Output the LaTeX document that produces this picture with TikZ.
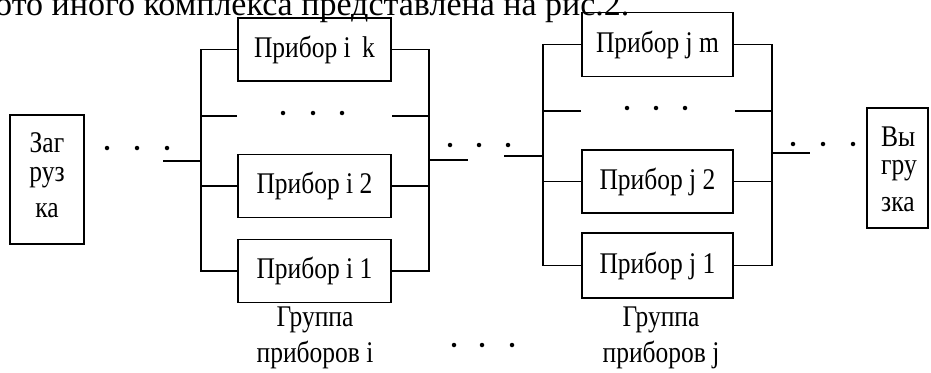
\documentclass[tikz,border=0pt]{standalone}
\usepackage{fontspec}
\setmainfont{Liberation Serif}
\newfontfamily\labfont[FakeStretch=0.85]{Liberation Serif}
\begin{document}
\begin{tikzpicture}[x=1pt,y=-1pt,
  wire/.style={line width=1.6pt},
  dev/.style={draw,line width=1.6pt,inner sep=0pt,minimum width=153pt,minimum height=63pt,font=\labfont\fontsize{30}{33}\selectfont},
  endbox/.style={draw,line width=1.6pt,inner sep=0pt,minimum width=74pt,minimum height=129pt},
  lab/.style={font=\labfont\fontsize{30}{33}\selectfont,inner sep=0pt},
  dot/.style={circle,fill=black,inner sep=0pt,minimum size=4.5pt}]
\useasboundingbox (0,0) rectangle (931,372);
\clip (0,0) rectangle (931,372);
\node[anchor=base west,inner sep=0pt,font=\fontsize{34}{38}\selectfont] (hdr) at (-5,15) {ото иного комплекса представлена на рис.2.};
% input box
\node[endbox] (in) at (47,179.5) {};
\node[lab] (in1) at (47,143) {Заг};
\node[lab] (in2) at (47,178) {руз};
\node[lab] (in3) at (47,211) {ка};
% output box
\node[endbox,minimum width=61pt,minimum height=120pt] (out) at (897.5,168) {};
\node[lab,anchor=west] (out1) at (881,137) {Вы};
\node[lab,anchor=west] (out2) at (881,171) {гру};
\node[lab,anchor=west] (out3) at (881,205) {зка};
% input dots
\node[dot] (d1) at (107,148) {};
\node[dot] (d2) at (137,148) {};
\node[dot] (d3) at (167,148) {};
% group i
\node[dev] (ik) at (314.5,49.5) {Прибор i\, k};
\node[dev] (i2) at (314.5,186) {Прибор i 2};
\node[dev] (i1) at (314.5,271) {Прибор i 1};
\coordinate (iLx) at (201,0);
\coordinate (iRx) at (429,0);
\draw[wire] (ik.west) -- (ik.west -| iLx) -- (i1.west -| iLx) -- (i1.west);
\draw[wire] (i2.west) -- (i2.west -| iLx);
\draw[wire] (ik.east) -- (ik.east -| iRx) -- (i1.east -| iRx) -- (i1.east);
\draw[wire] (i2.east) -- (i2.east -| iRx);
\coordinate (iLs) at (237,116);
\coordinate (iRs) at (392,116);
\draw[wire] (iLs) -- (iLs -| iLx);
\draw[wire] (iRs) -- (iRs -| iRx);
\node[dot] (id1) at (283,113) {};
\node[dot] (id2) at (313,113) {};
\node[dot] (id3) at (342,113) {};
\coordinate (inS) at (163,161);
\draw[wire] (inS) -- (inS -| iLx);
\coordinate (iO) at (468,160);
\draw[wire] (iO -| iRx) -- (iO);
% middle dots
\node[dot] (m1) at (450,145) {};
\node[dot] (m2) at (479,145) {};
\node[dot] (m3) at (508,145) {};
% group j
\node[dev,minimum width=151pt,minimum height=64pt] (jm) at (657.5,44.5) {Прибор j m};
\node[dev,minimum width=151pt,minimum height=63pt] (j2) at (657.5,181.5) {Прибор j 2};
\node[dev,minimum width=151pt,minimum height=65pt] (j1) at (657.5,265.5) {Прибор j 1};
\coordinate (jLx) at (543,0);
\coordinate (jRx) at (772,0);
\draw[wire] (jm.west) -- (jm.west -| jLx) -- (j1.west -| jLx) -- (j1.west);
\draw[wire] (j2.west) -- (j2.west -| jLx);
\draw[wire] (jm.east) -- (jm.east -| jRx) -- (j1.east -| jRx) -- (j1.east);
\draw[wire] (j2.east) -- (j2.east -| jRx);
\coordinate (jLs) at (581,111);
\coordinate (jRs) at (735,111);
\draw[wire] (jLs) -- (jLs -| jLx);
\draw[wire] (jRs) -- (jRs -| jRx);
\node[dot] (jd1) at (627,108) {};
\node[dot] (jd2) at (656,108) {};
\node[dot] (jd3) at (685,108) {};
\coordinate (jI) at (504,156);
\draw[wire] (jI) -- (jI -| jLx);
\coordinate (jO) at (810,153);
\draw[wire] (jO -| jRx) -- (jO);
\node[dot] (o1) at (793,144) {};
\node[dot] (o2) at (823,144) {};
\node[dot] (o3) at (853,144) {};
% captions
\node[lab] (ci1) at (315,320) {Группа};
\node[lab] (ci2) at (315,355) {приборов i};
\node[lab] (cj1) at (661,320) {Группа};
\node[lab] (cj2) at (661,355) {приборов j};
\node[dot] (b1) at (454,345) {};
\node[dot] (b2) at (482,345) {};
\node[dot] (b3) at (512,345) {};
\end{tikzpicture}
\end{document}
